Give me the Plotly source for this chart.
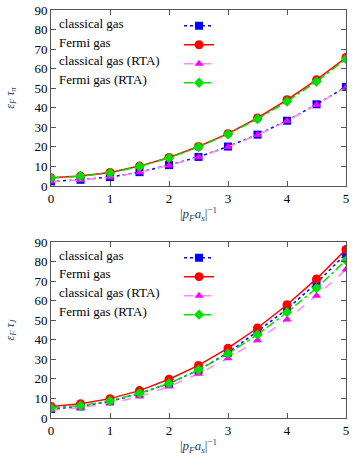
import plotly.graph_objects as go
from plotly.subplots import make_subplots

# %% Data
x = [0, 0.5, 1, 1.5, 2, 2.5, 3, 3.5, 4, 4.5, 5]
names = ["classical gas", "Fermi gas", "classical gas (RTA)", "Fermi gas (RTA)"]

# top panel: eps_F tau_pi
top_classical = [2.4, 3.2, 4.6, 7.1, 10.7, 14.9, 20.2, 26.3, 33.4, 41.8, 50.7]
top_fermi = [4.2, 5.1, 6.9, 10.2, 14.6, 20.2, 26.8, 34.8, 44.1, 54.3, 65.7]
top_classical_rta = [2.3, 3.1, 4.5, 7.0, 10.5, 14.7, 20.0, 26.1, 33.2, 41.6, 50.4]
top_fermi_rta = [4.1, 5.0, 6.7, 10.0, 14.4, 20.0, 26.5, 34.3, 43.2, 53.4, 64.9]

# bottom panel: eps_F tau_J
bot_classical = [4.6, 5.9, 8.5, 12.5, 17.6, 24.5, 33.4, 44.3, 55.7, 68.9, 84.0]
bot_fermi = [5.9, 7.3, 9.9, 14.0, 19.8, 26.9, 35.7, 46.0, 57.9, 71.1, 86.2]
bot_classical_rta = [4.1, 5.3, 7.5, 11.0, 16.1, 22.6, 30.6, 39.8, 50.4, 62.5, 75.9]
bot_fermi_rta = [5.1, 6.3, 8.7, 12.6, 17.7, 24.6, 32.9, 42.6, 54.0, 66.4, 80.6]

x_ticks = [0, 1, 2, 3, 4, 5]
y_ticks = [0, 10, 20, 30, 40, 50, 60, 70, 80, 90]

# %% Styles (gnuplot-like)
styles = [
    dict(color="#0000ff", dash="dot", symbol="square", size=8, lc="#0000ff"),
    dict(color="#ff0000", dash="solid", symbol="circle", size=9, lc="#ff0000"),
    dict(color="#ff00ff", dash="dash", symbol="triangle-up", size=8, lc="#ff88ff"),
    dict(color="#00e000", dash="dashdot", symbol="diamond", size=8, lc="#00e000"),
]

font = "Liberation Serif, DejaVu Serif, serif"

fig = make_subplots(rows=2, cols=1, vertical_spacing=0.137)

panels = [
    (1, "legend", [top_classical, top_fermi, top_classical_rta, top_fermi_rta]),
    (2, "legend2", [bot_classical, bot_fermi, bot_classical_rta, bot_fermi_rta]),
]
for row, leg, series in panels:
    for name, ys, st in zip(names, series, styles):
        fig.add_trace(
            go.Scatter(
                x=x, y=ys, mode="lines+markers", name=" ",
                line=dict(color=st["lc"], dash=st["dash"], width=1.5),
                marker=dict(color=st["color"], symbol=st["symbol"], size=st["size"]),
                legend=leg,
                hovertext=name,
            ),
            row=row, col=1,
        )

axis_common = dict(
    showline=True, linecolor="#555555", linewidth=1, mirror="allticks",
    ticks="inside", ticklen=5, tickcolor="#555555", showgrid=False, zeroline=False,
    tickfont=dict(family=font, size=13, color="#000"),
)
for row in (1, 2):
    fig.update_xaxes(range=[0, 5], tickvals=x_ticks, row=row, col=1,
                     title=dict(text="|<i>p<sub>F</sub>a<sub>s</sub></i>|<sup>−1</sup>",
                                font=dict(family=font, size=13), standoff=4),
                     **axis_common)
fig.update_yaxes(range=[0, 90], tickvals=y_ticks, row=1, col=1,
                 title=dict(text="<i>ε<sub>F</sub> τ<sub>π</sub></i>",
                            font=dict(family=font, size=12), standoff=17),
                 **axis_common)
fig.update_yaxes(range=[0, 90], tickvals=y_ticks, row=2, col=1,
                 title=dict(text="<i>ε<sub>F</sub> τ<sub>J</sub></i>",
                            font=dict(family=font, size=12), standoff=17),
                 **axis_common)

legend_common = dict(
    bgcolor="rgba(0,0,0,0)", font=dict(family=font, size=6), itemwidth=30,
    tracegroupgap=0, xanchor="left", yanchor="top",
)
top_dom = fig.layout.yaxis.domain
bot_dom = fig.layout.yaxis2.domain
fig.update_layout(
    legend=dict(x=0.434, y=top_dom[1] - 0.003, **legend_common),
    legend2=dict(x=0.434, y=bot_dom[1] - 0.003, **legend_common),
)

# legend labels on the left, gnuplot style
for dom in (top_dom, bot_dom):
    for i, name in enumerate(names):
        fig.add_annotation(
            xref="paper", yref="paper", x=0.02, y=dom[1] - 0.033 - i * 0.0455,
            text=name, showarrow=False, xanchor="left", yanchor="middle",
            font=dict(family=font, size=13, color="#000"),
        )

fig.update_layout(
    width=354, height=460,
    margin=dict(l=51, r=8, t=10, b=42, autoexpand=False),
    plot_bgcolor="white", paper_bgcolor="white",
    showlegend=True,
)

fig.write_html("out.html", config={"displayModeBar": False},
               post_script="document.body.style.margin='0';")
